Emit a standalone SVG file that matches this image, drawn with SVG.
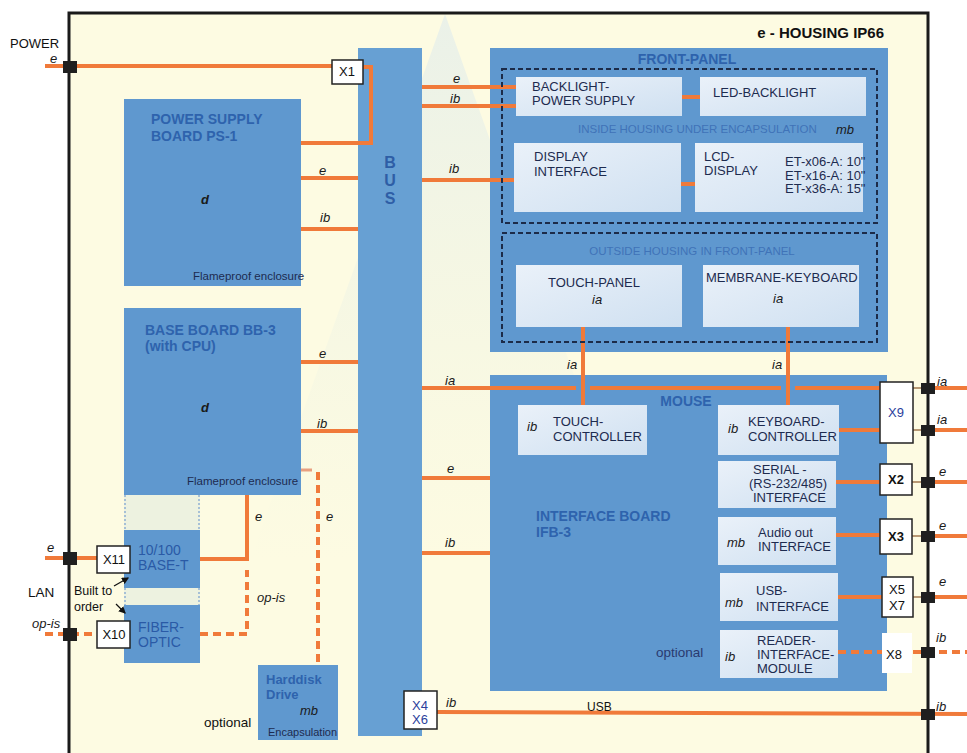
<svg xmlns="http://www.w3.org/2000/svg" width="967" height="753" viewBox="0 0 967 753">
<defs>
<linearGradient id="lg" x1="0" y1="0" x2="1" y2="1">
<stop offset="0" stop-color="#eaf1f9"/>
<stop offset="1" stop-color="#cfe0f1"/>
</linearGradient>
<linearGradient id="wm" x1="0" y1="0" x2="0" y2="1">
<stop offset="0" stop-color="#dbe9ee" stop-opacity="0.55"/>
<stop offset="1" stop-color="#e6efe2" stop-opacity="0"/>
</linearGradient>
<marker id="ar" viewBox="0 0 6 6" refX="5" refY="3" markerWidth="6" markerHeight="6" orient="auto">
<path d="M0,0 L6,3 L0,6 Z" fill="#111"/>
</marker>
<style>
text { font-family: 'Liberation Sans', Arial, Helvetica, sans-serif; }
.it { font-style: italic; font-size: 13px; fill: #1a1a1a; }
.bx { font-size: 13px; fill: #1d2b4f; }
.ttl { font-weight: bold; font-size: 14px; fill: #2e63ad; }
.sm { font-size: 11.5px; fill: #1d2b4f; }
.enc { font-size: 11.5px; fill: #3f73b8; }
.bl { font-size: 14px; fill: #2a5aa6; }
.board { fill: #5f98cf; }
.bus { fill: #67a0d3; }
.light { fill: url(#lg); }
.w { stroke: #f07a3a; stroke-width: 4; fill: none; }
.wd { stroke-dasharray: 8 5; }
.thin { stroke: #a07850; stroke-width: 1.5; fill: none; }
.xb { fill: #ffffff; stroke: #222; stroke-width: 1.5; }
.sq { fill: #1f1f1f; }
.dash { fill: none; stroke: #1c2b48; stroke-width: 2; stroke-dasharray: 5 3; }
.dot { fill: none; stroke: #8fb0d2; stroke-width: 1.5; stroke-dasharray: 2 2; }
.xt { font-size: 13px; fill: #111; text-anchor: middle; }
.xtb { font-size: 13px; fill: #2c3f9c; text-anchor: middle; }
</style>
</defs>

<rect x="0" y="0" width="967" height="753" fill="#ffffff"/>

<g id="housing">
<rect x="69" y="13" width="859" height="745" fill="#fdfbe2"/>
<polygon points="445,14 250,560 640,560" fill="url(#wm)"/>
<path d="M69,760 L69,13 L928,13 L928,760" fill="none" stroke="#1a1a1a" stroke-width="3"/>
<text x="884" y="38" font-size="15" font-weight="bold" fill="#111" text-anchor="end">e - HOUSING IP66</text>
</g>

<g id="bus">
<rect class="bus" x="358" y="48" width="64" height="688"/>
<text x="390" y="168" font-size="16" font-weight="bold" fill="#2e5ea6" text-anchor="middle">B</text>
<text x="390" y="186" font-size="16" font-weight="bold" fill="#2e5ea6" text-anchor="middle">U</text>
<text x="390" y="204" font-size="16" font-weight="bold" fill="#2e5ea6" text-anchor="middle">S</text>
</g>

<g id="ps-board">
<rect class="board" x="124" y="99" width="177" height="187"/>
<text class="ttl" x="151" y="124">POWER SUPPLY</text>
<text class="ttl" x="151" y="141">BOARD PS-1</text>
<text class="it" x="201" y="204" font-weight="bold" fill="#1d2b4f">d</text>
<text class="sm" x="193" y="280" font-size="11">Flameproof enclosure</text>
</g>

<g id="base-board">
<rect class="board" x="124" y="308" width="177" height="187"/>
<text class="ttl" x="145" y="335">BASE BOARD BB-3</text>
<text class="ttl" x="145" y="351">(with CPU)</text>
<text class="it" x="201" y="412" font-weight="bold" fill="#1d2b4f">d</text>
<text class="sm" x="187" y="485" font-size="11">Flameproof enclosure</text>
</g>

<g id="lan-boards">
<rect x="124" y="495" width="76" height="168" fill="#e2ecdf" opacity="0.6"/>
<rect class="board" x="124" y="530" width="76" height="58"/>
<rect class="board" x="124" y="605" width="76" height="58"/>
<path class="dot" d="M125,495 L125,530 M199,495 L199,530 M125,588 L125,605 M199,588 L199,605"/>
<text class="bl" x="138" y="555">10/100</text>
<text class="bl" x="138" y="570">BASE-T</text>
<text class="bl" x="138" y="632">FIBER-</text>
<text class="bl" x="138" y="647">OPTIC</text>
</g>

<g id="harddisk">
<rect class="board" x="258" y="665" width="80" height="75"/>
<text x="266" y="684" font-size="13" font-weight="bold" fill="#2e63ad">Harddisk</text>
<text x="266" y="699" font-size="13" font-weight="bold" fill="#2e63ad">Drive</text>
<text class="it" x="300" y="715" fill="#1d2b4f">mb</text>
<text x="268" y="736" font-size="11" fill="#1d2b4f">Encapsulation</text>
</g>

<g id="front-panel">
<rect class="board" x="490" y="48" width="398" height="304"/>
<text class="ttl" x="687" y="64" text-anchor="middle">FRONT-PANEL</text>
<text class="enc" x="578" y="133">INSIDE HOUSING UNDER ENCAPSULATION</text>
<text class="it" x="836" y="134" fill="#2e4d8a">mb</text>
<text class="enc" x="692" y="255" text-anchor="middle">OUTSIDE HOUSING IN FRONT-PANEL</text>
</g>

<g id="interface-board">
<rect class="board" x="490" y="375" width="397" height="316"/>
<text class="ttl" x="686" y="406" text-anchor="middle">MOUSE</text>
<text class="ttl" x="536" y="521">INTERFACE BOARD</text>
<text class="ttl" x="536" y="537">IFB-3</text>
<text x="656" y="657" font-size="13.5" fill="#2a3a70">optional</text>
</g>

<g id="connectors">
<path class="w" d="M45,66 L332,66"/>
<path class="w" d="M363,67 L371,67 L371,143 L301,143"/>
<path class="w" d="M301,178 L358,178 M301,229 L358,229"/>
<path class="w" d="M301,362 L358,362 M301,431 L358,431"/>
<path d="M301,470 L312,470" stroke="#e8a080" stroke-width="3"/>
<path class="w wd" d="M318,472 L318,665"/>
<path class="w" d="M247,495 L247,559 L200,559"/>
<path class="w wd" d="M200,634 L247,634 L247,570"/>
<path class="w" d="M45,558 L97,558"/>
<path class="w wd" d="M45,634 L97,634"/>
<path class="w" d="M422,87 L516,87 M422,106 L516,106 M422,180 L514,180"/>
<path class="w" d="M682,97 L700,97 M681,184 L695,184"/>
<path class="w" d="M583,327 L583,405 M788,327 L788,405"/>
<path class="w" d="M422,388 L576,388 M590,388 L781,388 M795,388 L880,388"/>
<path class="w" d="M422,478 L490,478 M422,553 L490,553"/>
<path class="w" d="M838,430 L880,430 M836,482 L880,482 M836,535 L880,535 M838,597 L882,597"/>
<path class="w wd" d="M838,652 L882,652"/>
<path class="w" d="M437,712 L967,714"/>
<path class="thin" d="M913,388 L921,388 M913,430 L921,430 M912,482 L921,482 M912,536 L921,536 M913,597 L921,597"/>
<path class="w" d="M935,388 L967,388 M935,430 L967,430 M935,482 L967,482 M935,536 L967,536 M935,597 L967,597"/>
<path class="w wd" d="M913,652 L967,652"/>
<path d="M114,586 L128,578" stroke="#111" stroke-width="1.2" marker-end="url(#ar)"/>
<path d="M116,604 L125,613" stroke="#111" stroke-width="1.2" marker-end="url(#ar)"/>
</g>

<g id="front-panel-frames">
<rect class="dash" x="502" y="69" width="375" height="154"/>
<rect class="dash" x="502" y="233" width="375" height="109"/>
</g>

<g id="backlight-ps">
<rect class="light" x="516" y="77" width="166" height="39"/>
<text class="bx" x="532" y="91">BACKLIGHT-</text>
<text class="bx" x="532" y="105">POWER SUPPLY</text>
</g>
<g id="led-backlight">
<rect class="light" x="700" y="77" width="166" height="39"/>
<text class="bx" x="713" y="97">LED-BACKLIGHT</text>
</g>
<g id="display-interface">
<rect class="light" x="514" y="143" width="167" height="69"/>
<text class="bx" x="534" y="161">DISPLAY</text>
<text class="bx" x="534" y="176">INTERFACE</text>
</g>
<g id="lcd-display">
<rect class="light" x="695" y="143" width="168" height="69"/>
<text class="bx" x="704" y="161">LCD-</text>
<text class="bx" x="704" y="175">DISPLAY</text>
<text class="bx" x="785" y="166" font-size="11">ET-x06-A: 10"</text>
<text class="bx" x="785" y="179.5" font-size="11">ET-x16-A: 10"</text>
<text class="bx" x="785" y="193" font-size="11">ET-x36-A: 15"</text>
</g>
<g id="touch-panel">
<rect class="light" x="516" y="265" width="166" height="62"/>
<text class="bx" x="594" y="287" text-anchor="middle">TOUCH-PANEL</text>
<text class="it" x="592" y="304">ia</text>
</g>
<g id="membrane-keyboard">
<rect class="light" x="703" y="265" width="156" height="62"/>
<text class="bx" x="706" y="282">MEMBRANE-KEYBOARD</text>
<text class="it" x="773" y="303">ia</text>
</g>

<g id="touch-controller">
<rect class="light" x="518" y="405" width="129" height="50"/>
<text class="it" x="527" y="431">ib</text>
<text class="bx" x="553" y="426">TOUCH-</text>
<text class="bx" x="553" y="441">CONTROLLER</text>
</g>
<g id="keyboard-controller">
<rect class="light" x="718" y="405" width="121" height="50"/>
<text class="it" x="728" y="433">ib</text>
<text class="bx" x="748" y="426">KEYBOARD-</text>
<text class="bx" x="748" y="441">CONTROLLER</text>
</g>
<g id="serial-interface">
<rect class="light" x="718" y="461" width="118" height="47"/>
<text class="bx" x="753" y="474">SERIAL -</text>
<text class="bx" x="749" y="488">(RS-232/485)</text>
<text class="bx" x="753" y="502">INTERFACE</text>
</g>
<g id="audio-interface">
<rect class="light" x="718" y="517" width="118" height="48"/>
<text class="it" x="727" y="547">mb</text>
<text class="bx" x="758" y="537">Audio out</text>
<text class="bx" x="758" y="551">INTERFACE</text>
</g>
<g id="usb-interface">
<rect class="light" x="720" y="573" width="118" height="48"/>
<text class="it" x="725" y="607">mb</text>
<text class="bx" x="756" y="595">USB-</text>
<text class="bx" x="756" y="611">INTERFACE</text>
</g>
<g id="reader-module">
<rect class="light" x="720" y="630" width="118" height="48"/>
<text class="it" x="725" y="661">ib</text>
<text class="bx" x="757" y="645" fill="#2a3a70">READER-</text>
<text class="bx" x="757" y="659" fill="#2a3a70">INTERFACE-</text>
<text class="bx" x="757" y="673" fill="#2a3a70">MODULE</text>
</g>

<g id="x1"><rect class="xb" x="332" y="60" width="31" height="24"/><text class="xt" x="347" y="76">X1</text></g>
<g id="x11"><rect class="xb" x="97" y="546" width="33" height="27"/><text class="xt" x="114" y="564">X11</text></g>
<g id="x10"><rect class="xb" x="97" y="621" width="33" height="27"/><text class="xt" x="114" y="639">X10</text></g>
<g id="x4x6"><rect class="xb" x="404" y="691" width="33" height="38"/><text class="xtb" x="420" y="710">X4</text><text class="xtb" x="420" y="724">X6</text></g>
<g id="x9"><rect class="xb" x="880" y="382" width="33" height="61"/><text class="xtb" x="896" y="417" font-size="14">X9</text></g>
<g id="x2"><rect class="xb" x="880" y="464" width="32" height="31"/><text class="xt" x="896" y="484" font-weight="bold">X2</text></g>
<g id="x3"><rect class="xb" x="880" y="519" width="32" height="35"/><text class="xt" x="896" y="541" font-weight="bold">X3</text></g>
<g id="x5x7"><rect class="xb" x="882" y="577" width="31" height="40"/><text class="xt" x="897" y="594">X5</text><text class="xt" x="897" y="610">X7</text></g>
<g id="x8"><rect x="882" y="633" width="30" height="40" fill="#ffffff"/><text class="xt" x="894" y="659">X8</text></g>

<g id="terminals">
<rect class="sq" x="63" y="61" width="14" height="12"/>
<rect class="sq" x="63" y="552" width="14" height="13"/>
<rect class="sq" x="63" y="628" width="14" height="13"/>
<rect class="sq" x="921" y="383" width="14" height="11"/>
<rect class="sq" x="921" y="425" width="14" height="11"/>
<rect class="sq" x="921" y="477" width="14" height="11"/>
<rect class="sq" x="921" y="531" width="14" height="11"/>
<rect class="sq" x="921" y="592" width="14" height="11"/>
<rect class="sq" x="921" y="647" width="14" height="11"/>
<rect class="sq" x="921" y="709" width="14" height="11" fill="#555"/>
</g>

<g id="labels">
<text x="10" y="48" font-size="13" fill="#111">POWER</text>
<text class="it" x="50" y="63" font-size="12">e</text>
<text class="it" x="47" y="552">e</text>
<text x="28" y="597" font-size="13.5" fill="#111">LAN</text>
<text class="it" x="32" y="628">op-is</text>
<text x="74" y="595" font-size="12.5" fill="#111">Built to</text>
<text x="74" y="611" font-size="12.5" fill="#111">order</text>
<text x="204" y="727" font-size="13.5" fill="#111">optional</text>
<text class="it" x="319" y="175">e</text>
<text class="it" x="320" y="222">ib</text>
<text class="it" x="319" y="358">e</text>
<text class="it" x="317" y="428">ib</text>
<text class="it" x="255" y="521">e</text>
<text class="it" x="326" y="521">e</text>
<text class="it" x="257" y="602">op-is</text>
<text class="it" x="453" y="83">e</text>
<text class="it" x="450" y="103">ib</text>
<text class="it" x="449" y="173">ib</text>
<text class="it" x="445" y="385">ia</text>
<text class="it" x="447" y="473">e</text>
<text class="it" x="445" y="547">ib</text>
<text class="it" x="446" y="707">ib</text>
<text x="587" y="711" font-size="12" fill="#111">USB</text>
<text class="it" x="567" y="369">ia</text>
<text class="it" x="772" y="369">ia</text>
<text class="it" x="937" y="386">ia</text>
<text class="it" x="937" y="424">ia</text>
<text class="it" x="939" y="476">e</text>
<text class="it" x="939" y="530">e</text>
<text class="it" x="939" y="586">e</text>
<text class="it" x="936" y="642">ib</text>
<text class="it" x="936" y="711">ib</text>
</g>
</svg>
